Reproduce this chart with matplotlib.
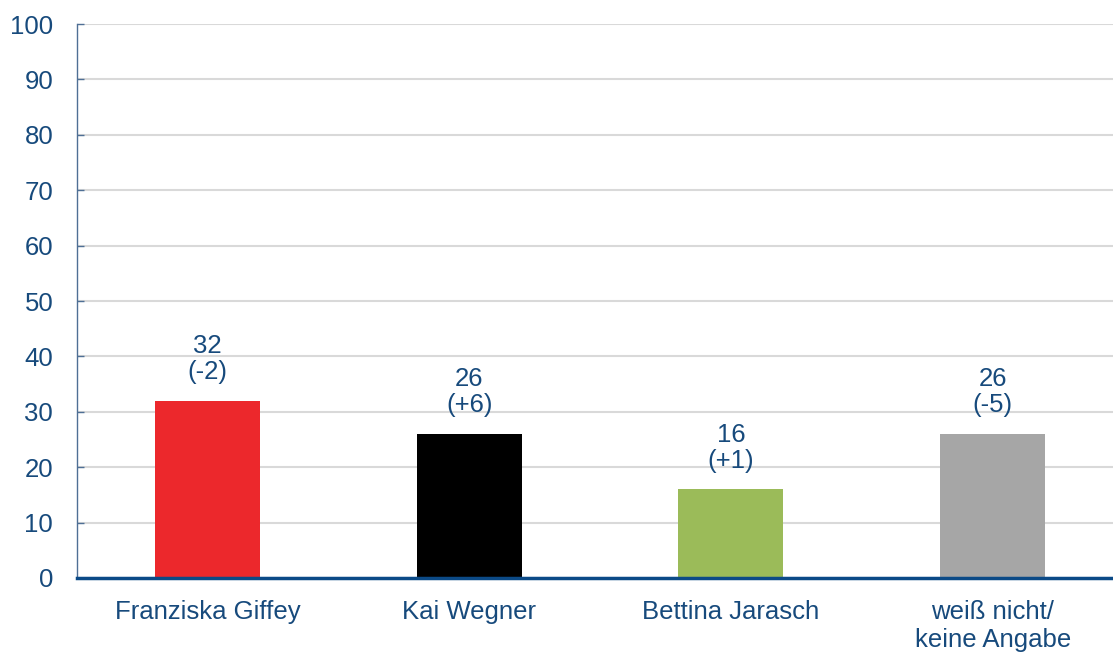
import matplotlib.pyplot as plt

names = ["Franziska Giffey", "Kai Wegner", "Bettina Jarasch", "weiß nicht/\nkeine Angabe"]
values = [32, 26, 16, 26]
changes = ["-2", "+6", "+1", "-5"]
colors = ["#EC282C", "#000000", "#9BBB59", "#A6A6A6"]

text_blue = "#174A7C"
axis_blue = "#0B4A87"

plt.rcParams['font.family'] = ['Liberation Sans', 'DejaVu Sans']

fig = plt.figure(figsize=(11.13, 6.53), dpi=100)
ax = fig.add_axes([0.0690, 0.1149, 0.9404, 0.8483])

x = range(len(names))
bars = ax.bar(x, values, width=0.401, color=colors, zorder=3)

# value plus change vs. previous poll above each bar
for i, (v, c) in enumerate(zip(values, changes)):
    ax.annotate(f"{v}\n({c})", xy=(i, v), xytext=(0, 12), textcoords="offset points",
                ha="center", va="bottom", fontsize=18.5, color=text_blue, linespacing=1.1)

ax.set_xlim(-0.5, 3.5)
ax.set_ylim(0, 100)
ax.set_yticks(range(0, 101, 10))
ax.set_xticks(list(x))
ax.set_xticklabels(names)

ax.grid(axis="y", color="#D9D9D9", linewidth=1.5, zorder=0)
ax.set_axisbelow(True)

for s in ["top", "right"]:
    ax.spines[s].set_visible(False)
ax.spines["left"].set_color("#4F6F95")
ax.spines["left"].set_linewidth(1.0)
ax.spines["bottom"].set_color(axis_blue)
ax.spines["bottom"].set_linewidth(2.5)
ax.spines["bottom"].set_zorder(4)

ax.tick_params(axis="y", direction="in", length=5, width=1, color="#4F6F95",
               labelsize=18.5, labelcolor=text_blue, pad=17)
ax.tick_params(axis="x", length=0, labelsize=18.5, labelcolor=text_blue, pad=16)

fig.savefig("out.png", dpi=100)
